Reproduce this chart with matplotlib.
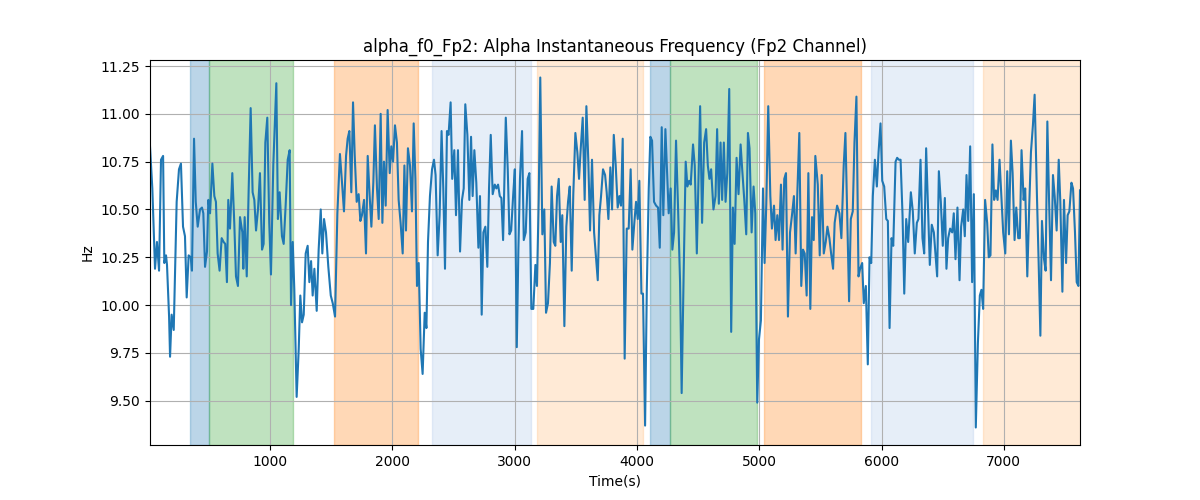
import matplotlib
matplotlib.use("Agg")
import matplotlib.pyplot as plt

# --- data ---
times = [
    19, 38, 60, 76, 93, 109, 126, 136, 150, 158, 175, 183, 196, 213, 237, 256, 272, 289, 305, 319,
    335, 352, 362, 379, 393, 409, 428, 444, 455, 469, 485, 496, 510, 529, 545, 558, 572, 588, 605, 621,
    634, 648, 659, 673, 692, 708, 722, 738, 755, 774, 782, 793, 810, 826, 842, 858, 872, 886, 902, 918,
    935, 948, 962, 978, 994, 1008, 1027, 1052, 1065, 1079, 1098, 1112, 1128, 1145, 1161, 1172, 1186, 1199, 1218, 1235,
    1248, 1262, 1276, 1292, 1308, 1322, 1336, 1349, 1363, 1382, 1398, 1415, 1428, 1442, 1458, 1477, 1497, 1513, 1532, 1551,
    1572, 1589, 1605, 1622, 1635, 1649, 1665, 1679, 1693, 1709, 1725, 1739, 1752, 1769, 1785, 1799, 1815, 1829, 1845, 1858,
    1875, 1889, 1905, 1919, 1932, 1946, 1962, 1979, 1992, 2006, 2022, 2038, 2052, 2068, 2085, 2099, 2112, 2128, 2145, 2161,
    2175, 2189, 2202, 2216, 2232, 2248, 2265, 2279, 2292, 2308, 2325, 2341, 2354, 2371, 2387, 2403, 2417, 2431, 2447, 2460,
    2477, 2490, 2507, 2521, 2537, 2554, 2570, 2584, 2597, 2614, 2630, 2644, 2657, 2671, 2687, 2704, 2717, 2731, 2745, 2761,
    2777, 2791, 2805, 2821, 2838, 2851, 2865, 2879, 2892, 2906, 2928, 2944, 2958, 2972, 2988, 3002, 3018, 3031, 3044, 3061,
    3075, 3091, 3107, 3121, 3137, 3153, 3170, 3183, 3197, 3210, 3227, 3243, 3257, 3273, 3289, 3303, 3320, 3333, 3347, 3361,
    3377, 3390, 3407, 3423, 3437, 3451, 3467, 3480, 3497, 3513, 3527, 3541, 3557, 3573, 3587, 3603, 3617, 3633, 3650, 3663,
    3680, 3693, 3707, 3723, 3740, 3753, 3767, 3783, 3797, 3811, 3827, 3843, 3857, 3870, 3884, 3900, 3917, 3933, 3949, 3963,
    3979, 3993, 4007, 4020, 4037, 4050, 4067, 4081, 4097, 4110, 4124, 4140, 4157, 4173, 4187, 4203, 4216, 4233, 4246, 4260,
    4276, 4290, 4304, 4320, 4336, 4353, 4366, 4383, 4399, 4413, 4427, 4440, 4459, 4473, 4490, 4503, 4517, 4533, 4550, 4566,
    4580, 4593, 4607, 4626, 4643, 4656, 4670, 4684, 4697, 4711, 4725, 4739, 4755, 4771, 4785, 4799, 4815, 4831, 4848, 4861,
    4878, 4894, 4908, 4921, 4938, 4954, 4968, 4984, 4998, 5014, 5031, 5044, 5058, 5074, 5091, 5104, 5121, 5134, 5148, 5162,
    5178, 5191, 5205, 5219, 5235, 5252, 5268, 5284, 5298, 5312, 5328, 5344, 5358, 5372, 5388, 5402, 5418, 5432, 5446, 5459,
    5479, 5495, 5511, 5528, 5544, 5558, 5574, 5588, 5604, 5617, 5637, 5656, 5672, 5691, 5705, 5719, 5735, 5749, 5765, 5779,
    5795, 5812, 5825, 5842, 5855, 5872, 5888, 5902, 5916, 5929, 5946, 5962, 5976, 5992, 6006, 6022, 6039, 6052, 6066, 6082,
    6096, 6115, 6128, 6142, 6156, 6172, 6186, 6202, 6218, 6240, 6256, 6272, 6289, 6302, 6319, 6335, 6349, 6365, 6382, 6395,
    6411, 6428, 6441, 6455, 6469, 6485, 6501, 6518, 6531, 6545, 6561, 6578, 6591, 6605, 6621, 6638, 6651, 6668, 6681, 6695,
    6709, 6725, 6741, 6755, 6771, 6788, 6804, 6817, 6831, 6847, 6864, 6877, 6891, 6907, 6921, 6935, 6949, 6965, 6982, 6995,
    7012, 7028, 7042, 7058, 7072, 7088, 7102, 7118, 7131, 7145, 7162, 7175, 7192, 7208, 7222, 7238, 7252, 7271, 7285, 7299,
    7312, 7329, 7342, 7356, 7370, 7386, 7402, 7416, 7432, 7449, 7462, 7479, 7492, 7509, 7522, 7536, 7553, 7566, 7582, 7596,
    7610, 7623,
]

freq_hz = [
    10.83, 10.61, 10.19, 10.33, 10.18, 10.76, 10.78, 10.22, 10.26, 10.21, 9.94, 9.73, 9.95, 9.87, 10.54, 10.71, 10.74, 10.41, 10.36, 10.04,
    10.26, 10.25, 10.18, 10.87, 10.54, 10.41, 10.50, 10.51, 10.48, 10.20, 10.28, 10.55, 10.48, 10.74, 10.57, 10.54, 10.27, 10.18, 10.35, 10.33,
    10.32, 10.12, 10.55, 10.40, 10.69, 10.43, 10.15, 10.10, 10.46, 10.38, 10.19, 10.46, 10.15, 10.61, 11.03, 10.59, 10.55, 10.39, 10.50, 10.69,
    10.29, 10.32, 10.85, 10.98, 10.43, 10.16, 10.73, 11.16, 10.45, 10.59, 10.36, 10.32, 10.52, 10.76, 10.81, 10.00, 10.33, 10.08, 9.52, 9.77,
    10.05, 9.91, 9.95, 10.27, 10.31, 10.12, 10.23, 10.05, 10.19, 9.97, 10.29, 10.50, 10.27, 10.45, 10.38, 10.20, 10.05, 10.01, 9.94, 10.48,
    10.79, 10.64, 10.49, 10.78, 10.87, 10.91, 10.59, 11.06, 10.78, 10.54, 10.58, 10.44, 10.47, 10.55, 10.27, 10.78, 10.57, 10.41, 10.64, 10.94,
    10.61, 10.45, 11.00, 10.43, 10.75, 10.52, 11.02, 10.69, 10.83, 10.75, 10.94, 10.85, 10.55, 10.43, 10.27, 10.73, 10.39, 10.82, 10.73, 10.49,
    10.95, 10.66, 10.10, 10.22, 9.77, 9.64, 9.96, 9.88, 10.33, 10.57, 10.71, 10.76, 10.68, 10.26, 10.47, 10.91, 10.61, 10.19, 10.91, 10.89,
    11.06, 10.66, 10.81, 10.47, 10.81, 10.28, 10.55, 10.61, 11.05, 10.89, 10.55, 10.88, 10.57, 10.81, 10.64, 10.30, 10.57, 9.95, 10.38, 10.41,
    10.20, 10.61, 10.89, 10.58, 10.63, 10.61, 10.63, 10.57, 10.56, 10.34, 10.98, 10.71, 10.37, 10.39, 10.57, 10.71, 9.78, 10.29, 10.66, 10.91,
    10.34, 10.38, 10.66, 10.69, 9.98, 9.98, 10.21, 10.10, 10.55, 11.19, 10.37, 10.50, 9.96, 10.01, 10.22, 10.62, 10.33, 10.31, 10.57, 10.66,
    10.33, 10.47, 9.89, 10.41, 10.54, 10.62, 10.18, 10.58, 10.90, 10.80, 10.66, 10.82, 10.98, 10.55, 11.04, 10.75, 10.39, 10.76, 10.38, 10.27,
    10.13, 10.47, 10.57, 10.71, 10.68, 10.59, 10.45, 10.72, 10.50, 10.89, 10.73, 10.51, 10.57, 10.52, 10.87, 9.72, 10.40, 10.40, 10.71, 10.29,
    10.43, 10.54, 10.45, 10.65, 10.06, 10.06, 9.37, 10.08, 10.61, 10.88, 10.86, 10.54, 10.52, 10.51, 10.30, 10.93, 10.47, 10.92, 10.71, 10.48,
    10.61, 10.29, 10.38, 10.86, 10.52, 10.12, 9.54, 10.19, 10.75, 10.62, 10.65, 10.63, 10.84, 10.73, 10.27, 10.64, 11.04, 10.43, 10.85, 10.92,
    10.73, 10.66, 10.71, 10.50, 10.57, 10.92, 10.53, 10.85, 10.55, 10.85, 10.54, 10.69, 11.13, 9.86, 10.51, 10.32, 10.77, 10.58, 10.84, 10.71,
    10.55, 10.37, 10.90, 10.82, 10.38, 10.62, 10.48, 9.49, 9.82, 9.92, 10.61, 10.22, 10.53, 11.04, 10.57, 10.40, 10.52, 10.34, 10.47, 10.34,
    10.63, 10.29, 10.66, 10.69, 9.94, 10.38, 10.47, 10.57, 10.27, 10.59, 10.90, 10.10, 10.29, 10.27, 10.05, 10.69, 9.98, 10.46, 10.34, 10.78,
    10.63, 10.26, 10.68, 10.27, 10.33, 10.41, 10.35, 10.27, 10.19, 10.43, 10.52, 10.48, 10.35, 10.73, 10.90, 10.48, 10.02, 10.45, 10.49, 10.85,
    11.09, 10.15, 10.19, 10.22, 10.01, 10.10, 9.69, 10.25, 10.22, 10.57, 10.76, 10.62, 10.80, 10.95, 10.65, 10.62, 10.45, 10.44, 9.88, 10.35,
    10.31, 10.75, 10.77, 10.76, 10.76, 10.47, 10.06, 10.45, 10.33, 10.59, 10.49, 10.27, 10.43, 10.45, 10.76, 10.35, 10.27, 10.82, 10.48, 10.21,
    10.42, 10.38, 10.27, 10.15, 10.70, 10.54, 10.31, 10.56, 10.19, 10.35, 10.40, 10.38, 10.48, 10.24, 10.51, 10.13, 10.41, 10.50, 10.36, 10.68,
    10.44, 10.83, 10.12, 10.58, 9.36, 9.80, 10.05, 10.08, 9.98, 10.55, 10.43, 10.25, 10.26, 10.84, 10.55, 10.60, 10.55, 10.76, 10.54, 10.38,
    10.27, 10.70, 10.37, 10.86, 10.69, 10.34, 10.51, 10.35, 10.35, 10.81, 10.55, 10.61, 10.15, 10.52, 10.80, 10.94, 11.10, 10.57, 10.22, 9.84,
    10.44, 10.24, 10.18, 10.96, 10.55, 10.13, 10.68, 10.57, 10.39, 10.76, 10.54, 10.07, 10.55, 10.22, 10.47, 10.49, 10.64, 10.61, 10.38, 10.12,
    10.10, 10.60,
]

# shaded segments: start, end, colour
span_start = [346, 505, 1526, 2325, 3187, 4107, 4273, 5038, 5913, 6830]
span_end = [505, 1191, 2213, 3138, 4046, 4273, 4978, 5829, 6749, 7700]
span_color = ['#1f77b4', '#2ca02c', '#ff7f0e', '#aec7e8', '#ffbb78',
              '#1f77b4', '#2ca02c', '#ff7f0e', '#aec7e8', '#ffbb78']

fig, ax = plt.subplots(figsize=(12, 5), dpi=100)

for s, e, c in zip(span_start, span_end, span_color):
    ax.axvspan(s, e, color=c, alpha=0.3)

ax.plot(times, freq_hz, color='tab:blue')

ax.set_xlim(times[0], times[-1])
ax.set_title('alpha_f0_Fp2: Alpha Instantaneous Frequency (Fp2 Channel)')
ax.set_xlabel('Time(s)')
ax.set_ylabel('Hz')
ax.grid(True)

plt.savefig('out.png')
